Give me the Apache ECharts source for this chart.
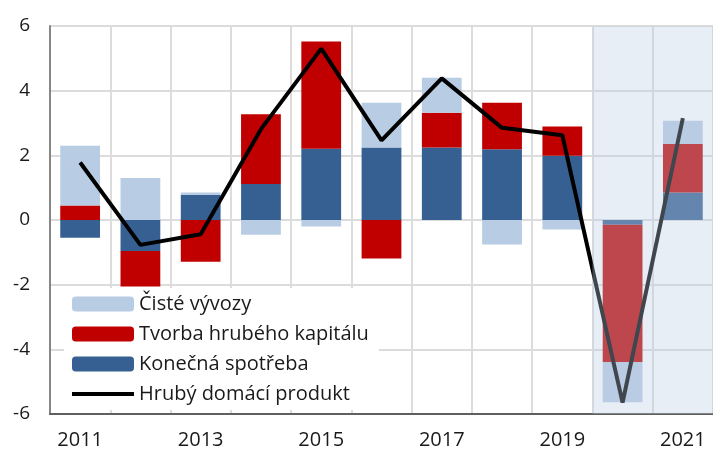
<!DOCTYPE html>
<html>
<head>
<meta charset="utf-8">
<script src="https://cdn.jsdelivr.net/npm/echarts@6/dist/echarts.min.js"></script>
<style>
  html, body { margin: 0; padding: 0; background: #fff; }
  #main { width: 713px; height: 452px; }
</style>
</head>
<body>
<div id="main"></div>
<script>
var years = ['2011', '2012', '2013', '2014', '2015', '2016', '2017', '2018', '2019', '2020', '2021'];
var spotreba = [-0.55, -0.96, 0.77, 1.11, 2.2, 2.24, 2.24, 2.19, 1.99, -0.15, 0.85];
var kapital = [0.45, -1.1, -1.29, 2.16, 3.32, -1.19, 1.08, 1.44, 0.9, -4.24, 1.5];
var vyvozy = [1.85, 1.3, 0.08, -0.46, -0.2, 1.39, 1.08, -0.76, -0.29, -1.25, 0.72];
var hdp = [1.78, -0.77, -0.44, 2.81, 5.3, 2.46, 4.38, 2.85, 2.62, -5.65, 3.15];
// forecast band, as category indices (band edges)
var forecastStart = 9;
var forecastEnd = 11;

var font = '"Open Sans", sans-serif';
var myChart = echarts.init(document.getElementById('main'));

var option = {
    animation: false,
    grid: { left: 50, right: 0, top: 26, bottom: 38 },
    legend: {
        orient: 'vertical',
        left: 64,
        top: 288,
        padding: [6, 10, 6, 8],
        backgroundColor: '#fff',
        itemWidth: 62,
        itemHeight: 15,
        itemGap: 10,
        textStyle: { fontFamily: font, fontSize: 20, color: '#1a1a1a' },
        data: ['Čisté vývozy', 'Tvorba hrubého kapitálu', 'Konečná spotřeba',
            { name: 'Hrubý domácí produkt', icon: 'path://M0,0H60V4H0Z' }]
    },
    xAxis: [{
        type: 'category',
        data: years,
        axisLine: { show: false },
        axisTick: { show: false },
        axisLabel: { interval: 1, margin: 16, fontFamily: font, fontSize: 20, color: '#1a1a1a' },
        splitLine: { show: true, interval: 0, lineStyle: { color: '#dcdcdc', width: 2 } }
    }, {
        type: 'category',
        data: years,
        position: 'bottom',
        axisLine: { onZero: true, lineStyle: { color: '#5f5f5f', width: 2 } },
        axisTick: { show: false },
        axisLabel: { show: false },
        splitLine: { show: false }
    }, {
        type: 'value',
        min: 0,
        max: years.length,
        show: false
    }],
    yAxis: {
        type: 'value',
        min: -6,
        max: 6,
        interval: 2,
        axisLine: { show: true, lineStyle: { color: '#868686', width: 2 } },
        axisTick: { show: false },
        axisLabel: { margin: 20, fontFamily: font, fontSize: 19, color: '#1a1a1a' },
        splitLine: { lineStyle: { color: '#dcdcdc', width: 2 } }
    },
    series: [{
        name: 'Konečná spotřeba',
        type: 'bar',
        stack: 'a',
        barWidth: '66%',
        itemStyle: { color: '#376092' },
        data: spotreba
    }, {
        name: 'Tvorba hrubého kapitálu',
        type: 'bar',
        stack: 'a',
        itemStyle: { color: '#c00000' },
        data: kapital
    }, {
        name: 'Čisté vývozy',
        type: 'bar',
        stack: 'a',
        itemStyle: { color: '#b8cce4' },
        data: vyvozy
    }, {
        name: 'Hrubý domácí produkt',
        type: 'line',
        symbol: 'none',
        itemStyle: { color: '#000' },
        lineStyle: { color: '#000', width: 4 },
        data: hdp
    }, {
        name: 'prognoza',
        type: 'line',
        xAxisIndex: 2,
        data: [],
        markArea: {
            silent: true,
            z: 10,
            itemStyle: { color: 'rgba(187,205,226,0.34)' },
            data: [[{ xAxis: forecastStart }, { xAxis: forecastEnd }]]
        }
    }]
};

myChart.setOption(option);
</script>
</body>
</html>
